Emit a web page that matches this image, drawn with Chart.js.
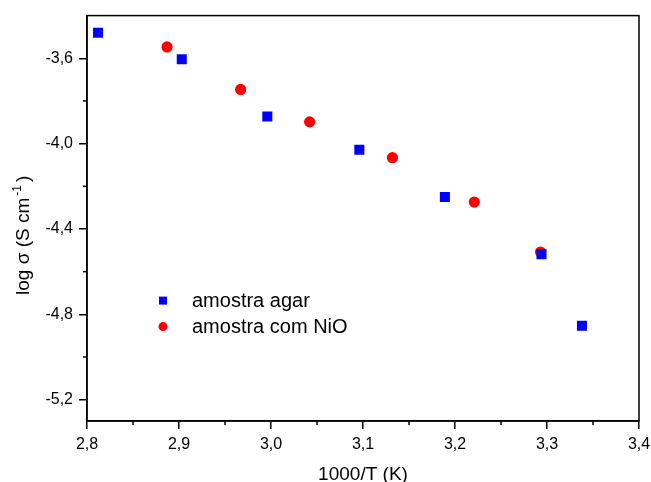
<!DOCTYPE html>
<html>
<head>
<meta charset="utf-8">
<script src="https://cdn.jsdelivr.net/npm/chart.js@4/dist/chart.umd.min.js"></script>
<style>
  html, body { margin: 0; padding: 0; background: #fff; }
  #wrap { width: 651px; height: 482px; }
</style>
</head>
<body>
<div id="wrap"><canvas id="chart" width="651" height="482"></canvas></div>
<script>
// values
var agarX = [2.812, 2.903, 2.996, 3.096, 3.189, 3.294, 3.338];
var agarY = [-3.480, -3.605, -3.873, -4.029, -4.250, -4.518, -4.854];
var nioX = [2.887, 2.967, 3.042, 3.132, 3.221, 3.293];
var nioY = [-3.547, -3.746, -3.898, -4.066, -4.274, -4.508];

var xMajorTicks = [2.8, 2.9, 3.0, 3.1, 3.2, 3.3, 3.4];
var xMinorTicks = [2.85, 2.95, 3.05, 3.15, 3.25, 3.35];
var yMajorTicks = [-5.2, -4.8, -4.4, -4.0, -3.6];
var yMinorTicks = [-5.0, -4.6, -4.2, -3.8];

var yTitleMain = 'log σ (S cm';
var yTitleSup = '-1';
var yTitleEnd = ')';

var FONT = 'Liberation Sans, Arial, sans-serif';

function toPoints(xs, ys) {
    return xs.map(function (x, i) { return { x: x, y: ys[i] }; });
}

function commaLabel(v) {
    return Number(v).toFixed(1).replace('.', ',');
}

// minor ticks and the frame, drawn through the scales
var frameAndMinor = {
    id: 'frameAndMinor',
    afterDraw: function (chart) {
        var ctx = chart.ctx;
        var a = chart.chartArea;
        var xs = chart.scales.x, ys = chart.scales.y;
        ctx.save();
        ctx.strokeStyle = '#000';
        ctx.lineWidth = 1.5;
        xMinorTicks.forEach(function (v) {
            var px = xs.getPixelForValue(v);
            ctx.beginPath();
            ctx.moveTo(px, a.bottom);
            ctx.lineTo(px, a.bottom + 4);
            ctx.stroke();
        });
        yMinorTicks.forEach(function (v) {
            var py = ys.getPixelForValue(v);
            ctx.beginPath();
            ctx.moveTo(a.left, py);
            ctx.lineTo(a.left - 4, py);
            ctx.stroke();
        });
        ctx.strokeRect(a.left, a.top, a.right - a.left, a.bottom - a.top);
        ctx.restore();
    }
};

// y title with a real superscript
var yTitle = {
    id: 'yTitle',
    afterDraw: function (chart) {
        var ctx = chart.ctx;
        var a = chart.chartArea;
        ctx.save();
        ctx.translate(29, a.bottom - 126);
        ctx.rotate(-Math.PI / 2);
        ctx.fillStyle = '#000';
        ctx.textBaseline = 'alphabetic';
        ctx.textAlign = 'left';
        ctx.font = '19px ' + FONT;
        ctx.fillText(yTitleMain, 0, 0);
        var w = ctx.measureText(yTitleMain).width;
        ctx.font = '12px ' + FONT;
        ctx.fillText(yTitleSup, w + 2, -8);
        w += ctx.measureText(yTitleSup).width + 5;
        ctx.font = '19px ' + FONT;
        ctx.fillText(yTitleEnd, w, 0);
        ctx.restore();
    }
};

// legend inside the plot area
var innerLegend = {
    id: 'innerLegend',
    afterDraw: function (chart) {
        var ctx = chart.ctx;
        var a = chart.chartArea;
        var x0 = a.left + 76, y0 = a.top + 285, gap = 26;
        ctx.save();
        ctx.font = '20px ' + FONT;
        ctx.textBaseline = 'middle';
        chart.data.datasets.forEach(function (ds, i) {
            var y = y0 + i * gap;
            ctx.fillStyle = ds.backgroundColor;
            if (ds.pointStyle === 'rect') {
                ctx.fillRect(x0 - 4, y - 4, 8, 8);
            } else {
                ctx.beginPath();
                ctx.arc(x0, y, 4.5, 0, Math.PI * 2);
                ctx.fill();
            }
            ctx.fillStyle = '#000';
            ctx.fillText(ds.label, x0 + 29, y + 1);
        });
        ctx.restore();
    }
};

new Chart(document.getElementById('chart'), {
    type: 'scatter',
    data: {
        datasets: [
            {
                label: 'amostra agar',
                data: toPoints(agarX, agarY),
                pointStyle: 'rect',
                pointRadius: 7.1,
                backgroundColor: '#0000ff',
                borderColor: '#0000ff',
                borderWidth: 0
            },
            {
                label: 'amostra com NiO',
                data: toPoints(nioX, nioY),
                pointStyle: 'circle',
                pointRadius: 5.6,
                backgroundColor: '#ff0000',
                borderColor: '#ff0000',
                borderWidth: 0
            }
        ]
    },
    options: {
        responsive: false,
        animation: false,
        layout: { padding: { top: 15, right: 12, left: 0, bottom: 0 } },
        plugins: {
            legend: { display: false },
            tooltip: { enabled: false }
        },
        scales: {
            x: {
                type: 'linear',
                min: 2.8,
                max: 3.4,
                afterBuildTicks: function (s) {
                    s.ticks = xMajorTicks.map(function (v) { return { value: v }; });
                },
                afterFit: function (s) {
                    s.height = 61;
                    s.paddingLeft = 0;
                    s.paddingRight = 0;
                },
                grid: { drawOnChartArea: false, drawTicks: true, tickLength: 8, color: '#000', lineWidth: 1.5 },
                border: { display: true, color: '#000', width: 1.5 },
                ticks: {
                    color: '#000',
                    font: { family: FONT, size: 16 },
                    padding: 6,
                    maxRotation: 0,
                    callback: commaLabel
                },
                title: {
                    display: true,
                    text: '1000/T (K)',
                    color: '#000',
                    font: { family: FONT, size: 19 },
                    padding: { top: 8, bottom: -4 }
                }
            },
            y: {
                type: 'linear',
                min: -5.3,
                max: -3.4,
                afterBuildTicks: function (s) {
                    s.ticks = yMajorTicks.map(function (v) { return { value: v }; });
                },
                afterFit: function (s) { s.width = 87; },
                grid: { drawOnChartArea: false, drawTicks: true, tickLength: 8, color: '#000', lineWidth: 1.5 },
                border: { display: true, color: '#000', width: 1.5 },
                ticks: {
                    color: '#000',
                    font: { family: FONT, size: 16 },
                    padding: 6,
                    callback: commaLabel
                },
                title: { display: false }
            }
        }
    },
    plugins: [frameAndMinor, yTitle, innerLegend]
});
</script>
</body>
</html>
